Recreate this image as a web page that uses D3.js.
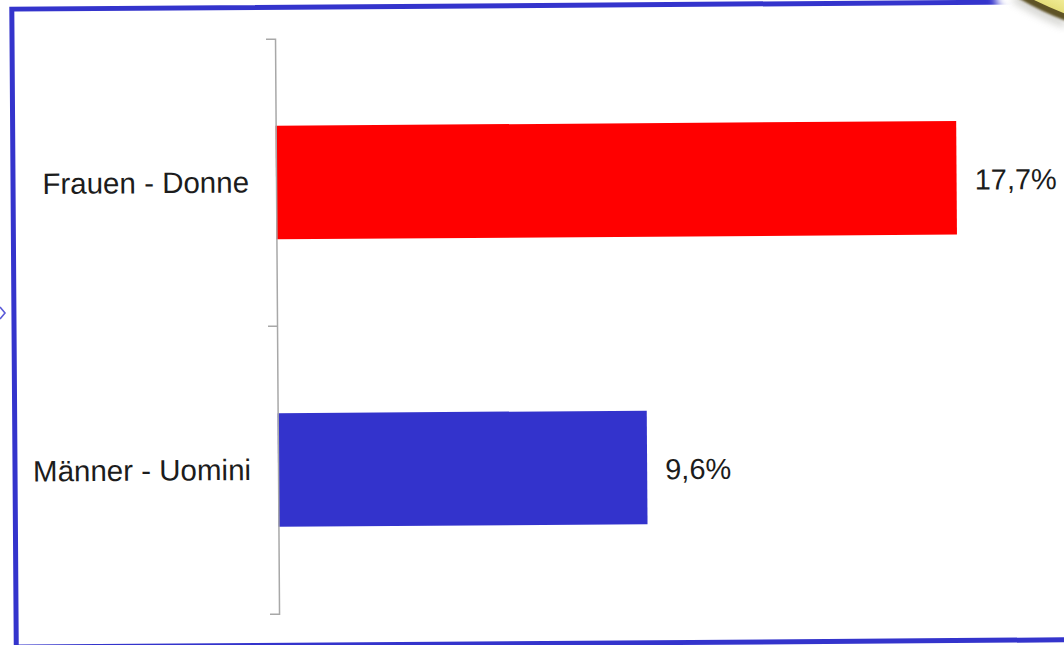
<!DOCTYPE html>
<html>
<head>
<meta charset="utf-8">
<script src="https://cdn.jsdelivr.net/npm/d3@7/dist/d3.min.js"></script>
<style>
  html, body { margin: 0; padding: 0; background: #ffffff; }
  svg { display: block; }
  text { font-family: "Liberation Sans", Arial, sans-serif; fill: #1c1c1c; }
</style>
</head>
<body>
<svg id="chart" width="1064" height="645"></svg>
<script>
// Share of each group, in percent
const categories = ["Frauen - Donne", "Männer - Uomini"];
const values = [17.7, 9.6];
const valueLabels = ["17,7%", "9,6%"];
const barColors = ["#ff0000", "#3333cc"];

const svg = d3.select("#chart");
const W = 1064, H = 645;

svg.append("rect").attr("width", W).attr("height", H).attr("fill", "#ffffff");

const defs = svg.append("defs");
defs.append("filter").attr("id", "soft").attr("x", "-50%").attr("y", "-50%")
  .attr("width", "200%").attr("height", "200%")
  .append("feGaussianBlur").attr("stdDeviation", 4);
defs.append("filter").attr("id", "edge")
  .append("feGaussianBlur").attr("stdDeviation", 1);
const grad = defs.append("linearGradient").attr("id", "gold")
  .attr("x1", "0").attr("y1", "1").attr("x2", "1").attr("y2", "0");
grad.append("stop").attr("offset", "0%").attr("stop-color", "#d8cf5a");
grad.append("stop").attr("offset", "100%").attr("stop-color", "#f3ee9c");

// The whole slide panel sits at a slight tilt
const panel = svg.append("g").attr("transform", "rotate(-0.4,532,322)");

panel.append("rect")
  .attr("x", 14).attr("y", 5.5)
  .attr("width", 1100).attr("height", 638)
  .attr("fill", "#ffffff")
  .attr("stroke", "#3434cc")
  .attr("stroke-width", 5);

const x0 = 277;
const x = d3.scaleLinear().domain([0, 20]).range([x0, x0 + 769]);
const y = d3.scaleBand().domain(categories).range([37, 612]).paddingInner(0).paddingOuter(0);
const barFrac = 0.395;

const plot = panel.append("g");

plot.selectAll("rect.bar")
  .data(categories)
  .join("rect")
  .attr("class", "bar")
  .attr("x", x(0))
  .attr("y", c => y(c) + y.bandwidth() * (1 - barFrac) / 2)
  .attr("width", (c, i) => x(values[i]) - x(0))
  .attr("height", y.bandwidth() * barFrac)
  .attr("fill", (c, i) => barColors[i]);

plot.selectAll("text.val")
  .data(categories)
  .join("text")
  .attr("class", "val")
  .attr("x", (c, i) => x(values[i]) + 18)
  .attr("y", c => y(c) + y.bandwidth() / 2)
  .attr("dy", "0.41em")
  .attr("font-size", 29)
  .text((c, i) => valueLabels[i]);

// Category axis: labels at band centres, ticks at band edges
const axis = d3.axisLeft(y).tickSizeInner(0).tickSizeOuter(9).tickPadding(27);
const ag = plot.append("g").attr("transform", `translate(${x0},0)`).call(axis);
ag.select(".domain").attr("stroke", "#a8a8a8").attr("stroke-width", 1.5);
ag.selectAll(".tick line").remove();
ag.selectAll(".tick text")
  .attr("font-size", 29.5)
  .attr("font-family", "Liberation Sans, Arial, sans-serif")
  .attr("fill", "#1c1c1c")
  .attr("dy", "0.33em");

categories.slice(1).forEach(c => {
  ag.append("line")
    .attr("x1", -9).attr("x2", 0)
    .attr("y1", y(c)).attr("y2", y(c))
    .attr("stroke", "#a8a8a8").attr("stroke-width", 1.5);
});

// Neighbouring slide elements at the edges
svg.append("polyline")
  .attr("points", "0,307 5,313 0,319")
  .attr("fill", "none").attr("stroke", "#5a5ad8").attr("stroke-width", 1.6);

svg.append("path")
  .attr("d", "M996,-20 L1080,-20 L1080,45 L1040,32 Q1010,18 996,4 Z")
  .attr("fill", "#ffffff").attr("filter", "url(#soft)");
svg.append("path")
  .attr("d", "M1014,-2 Q1040,14 1066,24")
  .attr("fill", "none").attr("stroke", "#8a8a80").attr("stroke-width", 5)
  .attr("filter", "url(#soft)").attr("opacity", 0.6);
svg.append("path")
  .attr("d", "M1018,-2 Q1042,12 1066,21 L1066,-2 Z")
  .attr("fill", "#5e5228").attr("filter", "url(#edge)");
svg.append("path")
  .attr("d", "M1030,-2 Q1048,7 1066,14 L1066,-2 Z")
  .attr("fill", "url(#gold)");
</script>
</body>
</html>
